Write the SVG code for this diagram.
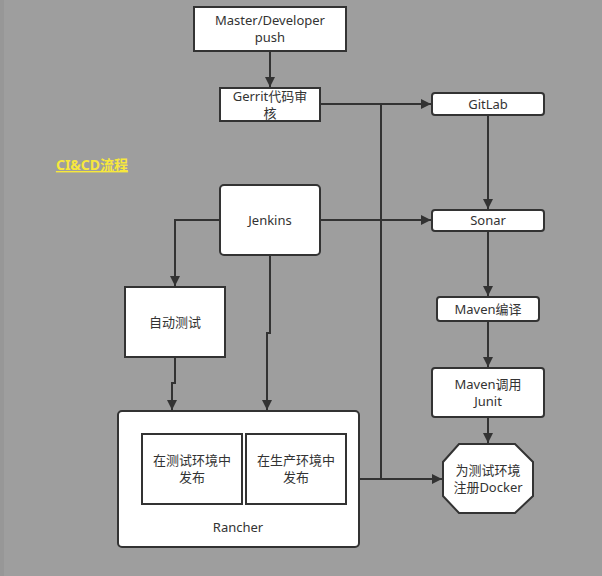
<svg xmlns="http://www.w3.org/2000/svg" width="602" height="576" viewBox="0 0 602 576">
<defs>
<marker id="arr" viewBox="0 0 10 10" refX="10" refY="5" markerWidth="10" markerHeight="10" markerUnits="userSpaceOnUse" orient="auto">
<path d="M0,0 L10,5 L0,10 Z" fill="#333"/>
</marker>
<style>
.n{fill:#fff;stroke:#333;stroke-width:2}
.t{font-family:"Noto Sans","Noto Sans CJK SC",sans-serif;font-size:13px;fill:#333;text-anchor:middle}
.c{fill:none;stroke:#333;stroke-width:2}
.ca{fill:none;stroke:#333;stroke-width:2;marker-end:url(#arr)}
</style>
</defs>
<rect x="0" y="0" width="602" height="576" fill="#9e9e9e"/>
<rect x="0" y="0" width="4" height="576" fill="#979797"/>
<text x="92" y="170" font-family="'Noto Sans','Noto Sans CJK SC',sans-serif" font-size="14" font-weight="bold" fill="#f7e83c" text-anchor="middle" text-decoration="underline">CI&amp;CD流程</text>

<g id="connectors">
<path class="ca" d="M270,51 L270,87"/>
<path class="ca" d="M320,104 L431,104"/>
<path class="c" d="M381,104 L381,479"/>
<path class="ca" d="M488,115 L488,209"/>
<path class="ca" d="M320,220 L431,220"/>
<path class="ca" d="M220,220 L175,220 L175,286"/>
<path class="ca" d="M270,255 L270,333 L267,333 L267,410"/>
<path class="ca" d="M175,357 L175,383 L172,383 L172,410"/>
<path class="ca" d="M488,231 L488,296"/>
<path class="ca" d="M488,321 L488,367"/>
<path class="ca" d="M488,417 L488,443"/>
<path class="ca" d="M359,479 L442,479"/>
</g>

<g id="master">
<rect class="n" x="194" y="7" width="152" height="44"/>
<text class="t" x="270" y="25">Master/Developer</text>
<text class="t" x="270" y="42">push</text>
</g>
<g id="gerrit">
<rect class="n" x="220" y="88" width="100" height="33"/>
<text class="t" x="270" y="101">Gerrit代码审</text>
<text class="t" x="270" y="118">核</text>
</g>
<g id="gitlab">
<rect class="n" x="432" y="93" width="112" height="22" rx="3"/>
<text class="t" x="488" y="109">GitLab</text>
</g>
<g id="jenkins">
<rect class="n" x="220" y="185" width="100" height="70" rx="4"/>
<text class="t" x="270" y="225">Jenkins</text>
</g>
<g id="sonar">
<rect class="n" x="432" y="210" width="112" height="21" rx="3"/>
<text class="t" x="488" y="225">Sonar</text>
</g>
<g id="autotest">
<rect class="n" x="125" y="287" width="100" height="70"/>
<text class="t" x="175" y="327">自动测试</text>
</g>
<g id="mavencompile">
<rect class="n" x="437" y="297" width="102" height="24" rx="3"/>
<text class="t" x="488" y="314">Maven编译</text>
</g>
<g id="mavenjunit">
<rect class="n" x="432" y="368" width="112" height="49" rx="3"/>
<text class="t" x="488" y="389">Maven调用</text>
<text class="t" x="488" y="406">Junit</text>
</g>
<g id="rancher">
<rect class="n" x="118" y="411" width="241" height="136" rx="4"/>
<text class="t" x="238" y="532">Rancher</text>
</g>
<g id="testdeploy">
<rect class="n" x="142" y="434" width="100" height="70"/>
<text class="t" x="192" y="465">在测试环境中</text>
<text class="t" x="192" y="482">发布</text>
</g>
<g id="proddeploy">
<rect class="n" x="246" y="434" width="100" height="70"/>
<text class="t" x="296" y="465">在生产环境中</text>
<text class="t" x="296" y="482">发布</text>
</g>
<g id="docker">
<polygon class="n" points="459,444 515,444 533,462 533,496 515,513 459,513 443,496 443,462"/>
<text class="t" x="488" y="475">为测试环境</text>
<text class="t" x="488" y="492">注册Docker</text>
</g>
</svg>
